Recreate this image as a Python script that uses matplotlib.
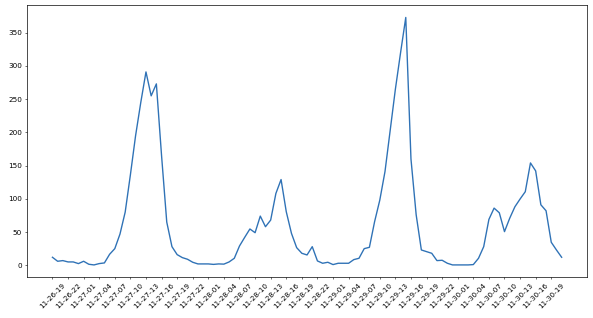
import matplotlib
matplotlib.use("Agg")
import matplotlib.pyplot as plt
import pandas as pd

# hourly timestamps 11-26 19h .. 11-30 21h
hours = pd.date_range("2019-11-26 19:00", "2019-11-30 21:00", freq="h").strftime("%m-%d-%H").tolist()

values = [12, 6, 7, 5, 5, 2.5, 6, 1.5, 0.5, 2.5,
          3.5, 16.5, 25, 47, 80, 136, 195, 245, 291, 255,
          273, 165, 65, 28, 16, 11.5, 9, 4.5, 2, 2,
          2, 1.3, 2, 1.7, 5, 10.5, 29, 42, 54.6, 49,
          74, 58, 68, 108, 129, 80.6, 48, 26.5, 18, 15.5,
          28, 6.5, 3, 4.5, 1, 3, 3, 3, 8.5, 10.5,
          25, 27, 65.6, 98, 141, 203, 265, 320, 373, 160,
          76, 23, 20.5, 18, 7, 7.5, 3, 0.5, 0.5, 0.5,
          0.5, 1, 10.5, 28, 69, 86, 79, 50.6, 70.7, 88,
          99.7, 110.7, 154, 142, 91, 82, 34.6, 23, 12]

tick_labels = [h for i, h in enumerate(hours) if i % 3 == 0 and h <= "11-30-19"]

fig = plt.figure(figsize=(12.0, 6.435), dpi=49.42)
ax = fig.add_axes([0.0455, 0.128, 0.9445, 0.856])
x = list(range(len(values)))
ax.plot(x, values, color="#2f72b6", linewidth=2.0)
ax.set_xticks([i for i in x if hours[i] in tick_labels])
ax.set_xticklabels(tick_labels, rotation=45)
ax.tick_params(labelsize=10.5)
for s in ax.spines.values():
    s.set_linewidth(1.0)
fig.savefig("out.png", dpi=49.42)
